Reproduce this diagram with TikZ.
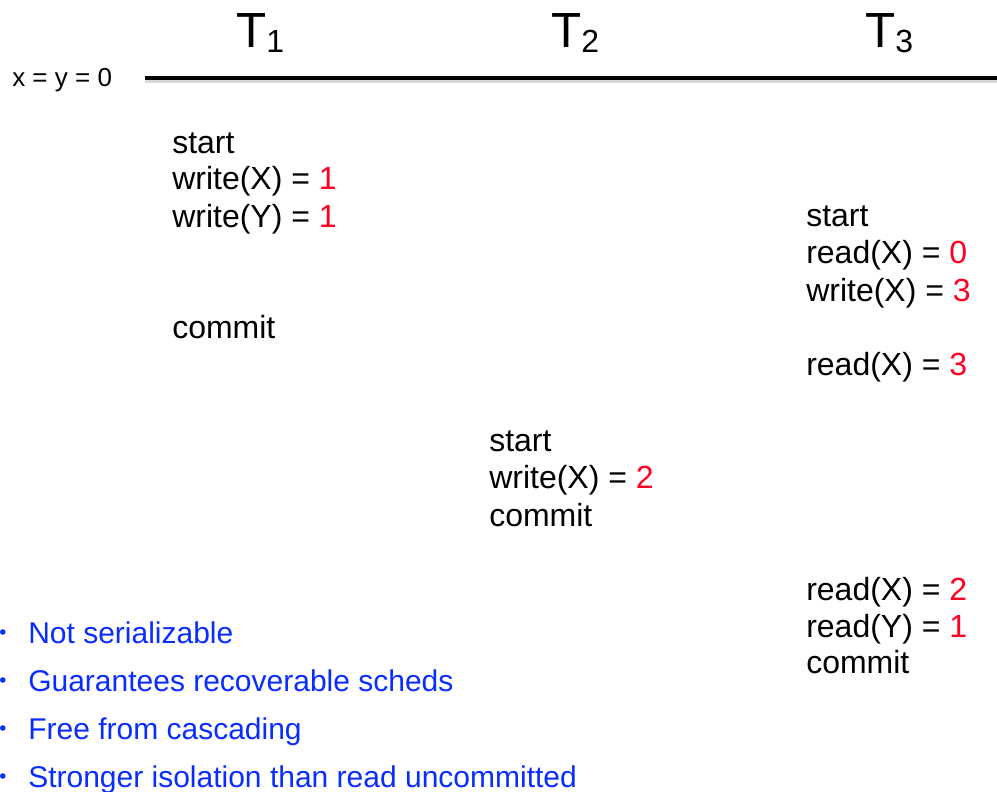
\documentclass[tikz,border=0pt]{standalone}
\usepackage{fontspec}
\setmainfont{Liberation Sans}
\definecolor{valred}{RGB}{255,0,35}
\definecolor{noteblue}{RGB}{10,45,255}
\newcommand{\valr}[1]{\textcolor{valred}{#1}}
\newcommand{\tx}[1]{T\raisebox{-3.75pt}{\fontsize{24}{24}\selectfont #1}}
\begin{document}
\begin{tikzpicture}[x=0.75pt,y=-0.75pt,
  opline/.style={anchor=base west,inner sep=0pt,font=\fontsize{24}{24}\selectfont},
  thead/.style={anchor=base west,inner sep=0pt,font=\fontsize{37}{37}\selectfont},
  note/.style={anchor=base west,inner sep=0pt,text=noteblue,font=\fontsize{22.5}{22.5}\selectfont},
  dot/.style={circle,fill=noteblue,inner sep=0pt,minimum size=4.2pt}]
\useasboundingbox[fill=white] (0,0) rectangle (997,792);

% column headings
\node[thead] (h1) at (236,48) {\tx{1}};
\node[thead] (h2) at (551,48) {\tx{2}};
\node[thead] (h3) at (865,48) {\tx{3}};

% initial state and time line
\node[anchor=base west,inner sep=0pt,font=\fontsize{19.5}{19.5}\selectfont] (init) at (12,87) {x = y = 0};
\coordinate (ls) at (145,78);
\coordinate (le) at (997,78);
\draw[black!15,line width=3pt] ([yshift=-2pt]ls) -- ([yshift=-2pt]le);
\draw[line width=2.3pt] (ls) -- (le);

% T1
\node[opline] (a1) at (172,153) {start};
\node[opline] (a2) at (172,190) {write(X) = \valr{1}};
\node[opline] (a3) at (172,227) {write(Y) = \valr{1}};
\node[opline] (a4) at (172,338) {commit};

% T3, first part
\node[opline] (c1) at (806,226) {start};
\node[opline] (c2) at (806,263) {read(X) = \valr{0}};
\node[opline] (c3) at (806,301) {write(X) = \valr{3}};
\node[opline] (c4) at (806,375) {read(X) = \valr{3}};

% T2
\node[opline] (b1) at (489,451) {start};
\node[opline] (b2) at (489,488) {write(X) = \valr{2}};
\node[opline] (b3) at (489,526) {commit};

% T3, second part
\node[opline] (c5) at (806,600) {read(X) = \valr{2}};
\node[opline] (c6) at (806,637) {read(Y) = \valr{1}};
\node[opline] (c7) at (806,673) {commit};

% remarks
\node[dot] (d1) at (2.8,632) {};
\node[note] (n1) at (28,643) {Not serializable};
\node[dot] (d2) at (2.8,680) {};
\node[note] (n2) at (28,691) {Guarantees recoverable scheds};
\node[dot] (d3) at (2.8,728) {};
\node[note] (n3) at (28,739) {Free from cascading};
\node[dot] (d4) at (2.8,776) {};
\node[note] (n4) at (28,787) {Stronger isolation than read uncommitted};
\end{tikzpicture}
\end{document}
